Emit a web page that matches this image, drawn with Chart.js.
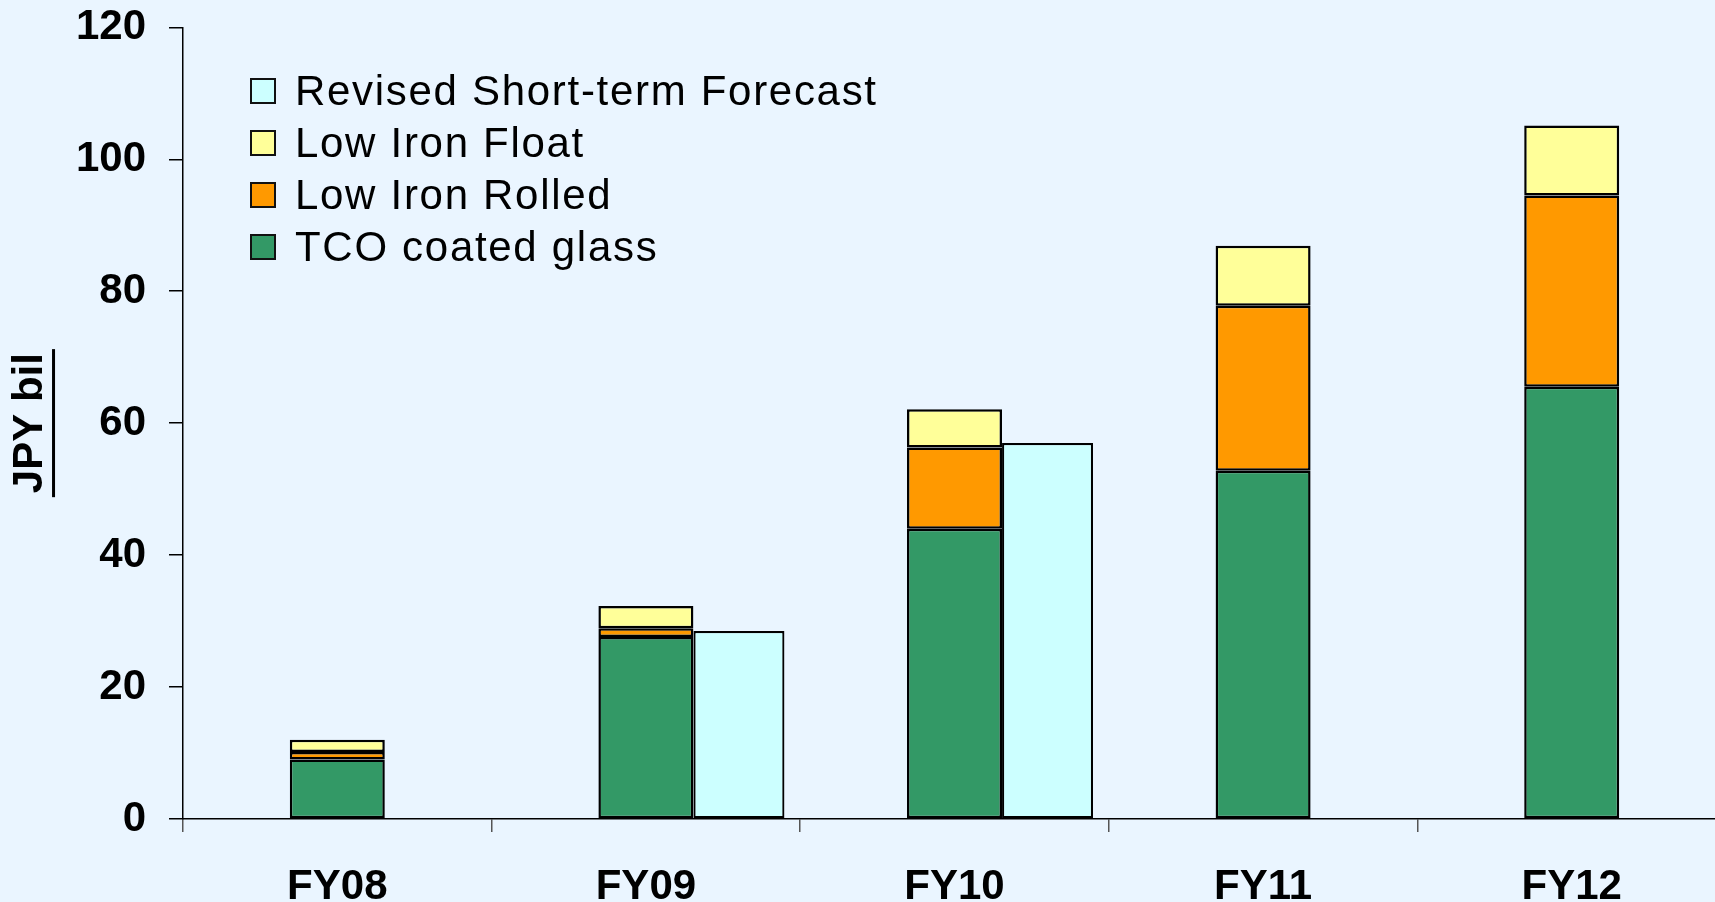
<!DOCTYPE html>
<html>
<head>
<meta charset="utf-8">
<script src="https://cdn.jsdelivr.net/npm/chart.js@4.4.0/dist/chart.umd.min.js"></script>
<style>
  html, body { margin: 0; padding: 0; width: 1715px; height: 902px; overflow: hidden; background: #eaf5ff; }
  #wrap { position: relative; width: 1726px; height: 908px; }
  #legend {
    position: absolute; left: 250px; top: 65px;
    font-family: "Liberation Sans", Arial, sans-serif; font-size: 42px;
    letter-spacing: 1.7px; color: #000;
  }
  .row { display: flex; align-items: center; height: 52px; white-space: nowrap; }
  .box { width: 22px; height: 22px; border: 2px solid #111; margin-right: 19px; flex: none; }
</style>
</head>
<body>
<div id="wrap">
  <canvas id="salesChart"></canvas>
  <div id="legend"></div>
</div>
<script>
const categories = ['FY08', 'FY09', 'FY10', 'FY11', 'FY12'];
const tcoCoatedGlass = [9.0, 27.6, 44.0, 52.8, 65.5];
const lowIronRolled = [1.15, 1.3, 12.3, 25.0, 29.0];
const lowIronFloat = [1.85, 3.4, 5.8, 9.1, 10.6];
const revisedForecast = [null, 28.5, 57.0, null, null];
const yTicks = [0, 20, 40, 60, 80, 100, 120];

const FONT = '"Liberation Sans", Arial, sans-serif';
const SHIFT = 0.3015; // forecast bar sits just right of the stacked bar

// underline under the rotated y axis title
const underlineTitle = {
    id: 'underlineTitle',
    afterDraw(chart) {
        const s = chart.scales.y;
        const t = s.options.title;
        const font = Chart.helpers.toFont(t.font);
        const pad = Chart.helpers.toPadding(t.padding);
        const cx = s.left + pad.top + font.lineHeight / 2;
        const cy = (s.top + s.bottom) / 2;
        const ctx = chart.ctx;
        ctx.save();
        ctx.font = font.string;
        const w = ctx.measureText(t.text).width + 8;
        ctx.fillStyle = '#000';
        ctx.fillRect(cx + font.size * 0.52, cy - w / 2, 3, w);
        ctx.restore();
    }
};

const stackStyle = {
    stack: 'main', xAxisID: 'x', grouped: false, maxBarThickness: 95,
    borderColor: '#000', borderWidth: 2.5, borderSkipped: false
};

const chart = new Chart(document.getElementById('salesChart'), {
    type: 'bar',
    data: {
        labels: categories,
        datasets: [
            { label: 'TCO coated glass', data: tcoCoatedGlass, backgroundColor: '#339966', ...stackStyle },
            { label: 'Low Iron Rolled', data: lowIronRolled, backgroundColor: '#FF9900', ...stackStyle },
            { label: 'Low Iron Float', data: lowIronFloat, backgroundColor: '#FFFF99', ...stackStyle },
            {
                label: 'Revised Short-term Forecast',
                data: revisedForecast.map((v, i) => (v === null ? null : { x: i, y: v })).filter(Boolean),
                backgroundColor: '#CCFFFF', borderColor: '#000', borderWidth: 2.2, borderSkipped: false,
                xAxisID: 'x2', stack: 'forecast', grouped: false, maxBarThickness: 91
            }
        ]
    },
    options: {
        responsive: true,
        maintainAspectRatio: false,
        animation: false,
        events: [],
        layout: { padding: { top: 27.3, left: 0, right: 0, bottom: 0 } },
        plugins: {
            legend: { display: false },
            tooltip: { enabled: false }
        },
        scales: {
            x: {
                stacked: true,
                offset: true,
                afterFit: s => { s.height = 89; },
                grid: { display: true, offset: true, drawOnChartArea: false, drawTicks: true, tickLength: 13, color: '#555', lineWidth: 1.5 },
                border: { display: true, color: '#000', width: 1.5 },
                ticks: { color: '#000', padding: 30.5, font: { family: FONT, size: 42, weight: 'bold' } }
            },
            x2: {
                type: 'linear',
                display: false,
                position: 'bottom',
                offset: false,
                bounds: 'data',
                min: -0.5 - SHIFT,
                max: categories.length - 0.5 - SHIFT,
                ticks: { display: false, stepSize: 1, includeBounds: false },
                grid: { display: false }
            },
            y: {
                stacked: true,
                min: yTicks[0],
                max: yTicks[yTicks.length - 1],
                afterFit: s => {
                    s.width = 183;
                    s.paddingTop = 0;
                    s.paddingBottom = 0;
                },
                ticks: { stepSize: yTicks[1] - yTicks[0], color: '#000', padding: 23, font: { family: FONT, size: 42, weight: 'bold' } },
                grid: { display: true, drawOnChartArea: false, drawTicks: true, tickLength: 14, color: '#000', lineWidth: 1.5 },
                border: { display: true, color: '#000', width: 1.5 },
                title: {
                    display: true,
                    text: 'JPY bil',
                    color: '#000',
                    padding: { top: 5, bottom: 0 },
                    font: { family: FONT, size: 42, weight: 'bold' }
                }
            }
        }
    },
    plugins: [underlineTitle]
});

// legend in the same order as the reference (top of stack first)
const legendEl = document.getElementById('legend');
chart.data.datasets.slice().reverse().forEach(ds => {
    const row = document.createElement('div');
    row.className = 'row';
    const box = document.createElement('span');
    box.className = 'box';
    box.style.background = ds.backgroundColor;
    const label = document.createElement('span');
    label.textContent = ds.label;
    row.appendChild(box);
    row.appendChild(label);
    legendEl.appendChild(row);
});
</script>
</body>
</html>
